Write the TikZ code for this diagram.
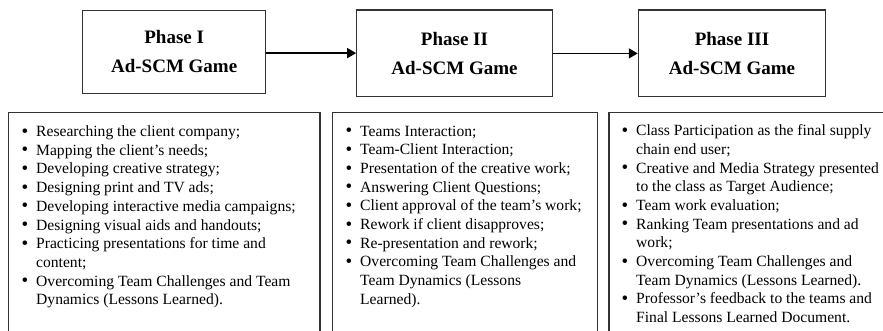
\documentclass[tikz,border=0pt]{standalone}
\usepackage{fontspec}
\setmainfont{Liberation Serif}
\usetikzlibrary{arrows.meta}
\tikzset{
  phasebox/.style={draw=black!80, line width=1.1pt, inner sep=0pt, align=center,
    font=\fontsize{19}{29}\selectfont\bfseries},
  listbox/.style={draw=black!80, line width=1.1pt},
  flow/.style={line width=1.6pt, -{Triangle[length=9pt,width=10pt]}},
  listtext/.style={anchor=north west, inner sep=0pt, align=left,
    font=\fontsize{15.6}{18.7}\selectfont},
}
% bullet list row helpers
\newcommand{\bul}{\makebox[14.5pt][l]{\raisebox{-0.6pt}{\fontsize{19}{19}\selectfont\textbullet}}}
\newcommand{\cont}{\hspace*{14.5pt}}
\begin{document}
\begin{tikzpicture}[x=1pt,y=-1pt]
  \useasboundingbox (0,0) rectangle (883,331);
  \clip (0,0) rectangle (883,331);

  % phase headers
  \node[phasebox, minimum width=183pt, minimum height=83pt] (p1) at (174.2,51.6)
    {Phase I\\Ad-SCM Game};
  \node[phasebox, minimum width=195.6pt, minimum height=86.7pt] (p2) at (454.5,53.4)
    {Phase II\\Ad-SCM Game};
  \node[phasebox, minimum width=187.4pt, minimum height=86.7pt] (p3) at (732,53.4)
    {Phase III\\Ad-SCM Game};

  \draw[flow] ([yshift=-1.5pt]p1.east) -- ([yshift=-1.5pt]p1.east -| p2.west);
  \draw[flow] (p2.east) -- (p2.east -| p3.west);

  % activity boxes (run past the lower edge)
  \draw[listbox] (8.3,345) -- (8.3,112.3) -- (320,112.3) -- (320,345);
  \draw[listbox] (332.5,345) -- (332.5,112.3) -- (597.7,112.3) -- (597.7,345);
  \draw[listbox] (609,345) -- (609,112.3) -- (895,112.3);

  \node[listtext] (l1) at (21.5,125.5) {%
    \bul Researching the client company;\\
    \bul Mapping the client’s needs;\\
    \bul Developing creative strategy;\\
    \bul Designing print and TV ads;\\
    \bul Developing interactive media campaigns;\\
    \bul Designing visual aids and handouts;\\
    \bul Practicing presentations for time and\\
    \cont content;\\
    \bul Overcoming Team Challenges and Team\\
    \cont Dynamics (Lessons Learned).};

  \node[listtext] (l2) at (345.5,125.5) {%
    \bul Teams Interaction;\\
    \bul Team-Client Interaction;\\
    \bul Presentation of the creative work;\\
    \bul Answering Client Questions;\\
    \bul Client approval of the team’s work;\\
    \bul Rework if client disapproves;\\
    \bul Re-presentation and rework;\\
    \bul Overcoming Team Challenges and\\
    \cont Team Dynamics (Lessons\\
    \cont Learned).};

  \node[listtext] (l3) at (621.5,124.5) {%
    \bul Class Participation as the final supply\\
    \cont chain end user;\\
    \bul Creative and Media Strategy presented\\
    \cont to the class as Target Audience;\\
    \bul Team work evaluation;\\
    \bul Ranking Team presentations and ad\\
    \cont work;\\
    \bul Overcoming Team Challenges and\\
    \cont Team Dynamics (Lessons Learned).\\
    \bul Professor’s feedback to the teams and\\
    \cont Final Lessons Learned Document.};
\end{tikzpicture}
\end{document}
